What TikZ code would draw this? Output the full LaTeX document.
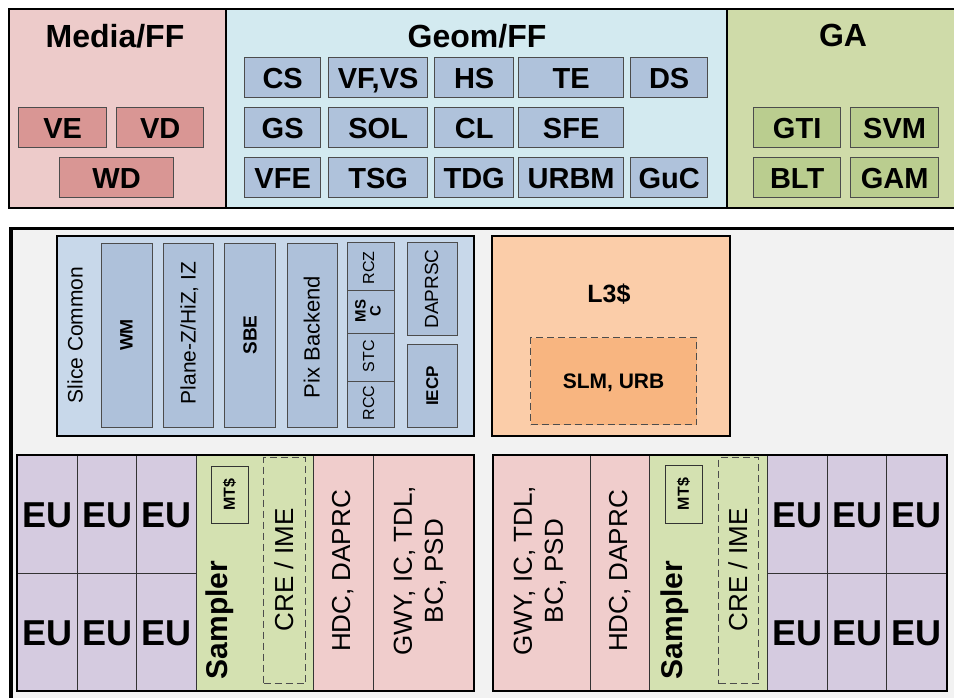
\documentclass[tikz,border=0pt]{standalone}
\usepackage{fontspec}
\setmainfont{Liberation Sans}

\definecolor{mediabg}{HTML}{EDCBCA}
\definecolor{mediabox}{HTML}{D99694}
\definecolor{geombg}{HTML}{D3EAF0}
\definecolor{geombox}{HTML}{AFC2DB}
\definecolor{gabg}{HTML}{CFDBA9}
\definecolor{gabox}{HTML}{BACD8F}
\definecolor{panelbg}{HTML}{F2F2F2}
\definecolor{slicebg}{HTML}{C8D8EA}
\definecolor{slicebox}{HTML}{AEC1DA}
\definecolor{lthreebg}{HTML}{FBCDA9}
\definecolor{lthreein}{HTML}{F8B580}
\definecolor{eufill}{HTML}{D5CBE0}
\definecolor{sampfill}{HTML}{D4E1B1}
\definecolor{hdcfill}{HTML}{F0CDCC}

\newcommand\fsz[1]{\fontsize{#1}{#1}\selectfont}
% box from (x1,y1) to (x2,y2), y measured downwards
\newcommand\cellat[7]{\node[#6,anchor=north west,minimum width={(#4-#2)*1pt},minimum height={(#5-#3)*1pt}] (#1) at (#2,#3) {#7};}

\tikzset{
  frame/.style={draw=black, line width=2.4pt, inner sep=0pt},
  unit/.style={draw=black!70, line width=1.3pt, inner sep=0pt, font=\bfseries\fsz{29}, text height=20.8pt, text depth=0pt},
  media/.style={unit, fill=mediabox},
  geom/.style={unit, fill=geombox},
  ga/.style={unit, fill=gabox},
  title/.style={font=\bfseries\fsz{32}, anchor=base, inner sep=0pt},
  vlab/.style={rotate=90, anchor=base, inner sep=0pt},
  grid/.style={draw=black!80, line width=1.2pt, inner sep=0pt},
  slicecell/.style={draw=black!70, line width=1.2pt, fill=slicebox, inner sep=0pt},
  eu/.style={grid, fill=eufill, font=\bfseries\fsz{36}, text height=25.8pt, text depth=0pt},
  dashbox/.style={draw=black!70, line width=1.1pt, dash pattern=on 7pt off 4pt, inner sep=0pt},
}

\begin{document}
\begin{tikzpicture}[x=1pt,y=-1pt]
\useasboundingbox (0,0) rectangle (954,698);
\fill[white] (0,0) rectangle (954,698);

% ---------- fixed-function blocks ----------
\cellat{mediaff}{8}{8}{225}{207}{frame,fill=mediabg}{}
\cellat{geomff}{225}{8}{726}{207}{frame,fill=geombg}{}
\cellat{gablk}{726}{8}{970}{207}{frame,fill=gabg}{}
\node[title] (mediat) at (115,47.5) {Media/FF};
\node[title] (geomt) at (477,48) {Geom/FF};
\node[title] (gat) at (843,47) {GA};

\cellat{ve}{18}{107}{106}{147}{media}{VE}
\cellat{vd}{116}{107}{203}{147}{media}{VD}
\cellat{wd}{59}{157}{173}{197}{media}{WD}

\cellat{cs}{244}{57}{320}{97}{geom}{CS}
\cellat{vfvs}{328}{57}{427}{97}{geom}{VF,VS}
\cellat{hs}{434}{57}{513}{97}{geom}{HS}
\cellat{te}{518}{57}{623}{97}{geom}{TE}
\cellat{ds}{630}{57}{707}{97}{geom}{DS}
\cellat{gs}{244}{107}{320}{147}{geom}{GS}
\cellat{sol}{328}{107}{427}{147}{geom}{SOL}
\cellat{cl}{434}{107}{513}{147}{geom}{CL}
\cellat{sfe}{518}{107}{623}{147}{geom}{SFE}
\cellat{vfe}{244}{157}{320}{197}{geom}{VFE}
\cellat{tsg}{328}{157}{427}{197}{geom}{TSG}
\cellat{tdg}{434}{157}{513}{197}{geom}{TDG}
\cellat{urbm}{518}{157}{623}{197}{geom}{URBM}
\cellat{guc}{630}{157}{707}{197}{geom}{GuC}

\cellat{gti}{753}{107}{840}{147}{ga}{GTI}
\cellat{svm}{850}{107}{938}{147}{ga}{SVM}
\cellat{blt}{753}{157}{840}{197}{ga}{BLT}
\cellat{gam}{850}{157}{938}{197}{ga}{GAM}

% ---------- slice panel ----------
\cellat{panel}{9}{227}{980}{720}{draw=black,line width=3.5pt,fill=panelbg,inner sep=0pt}{}

% slice common
\cellat{slicecommon}{56}{235}{473}{435}{frame,line width=2pt,fill=slicebg}{}
\node[vlab,font=\fsz{21}] (slicet) at (82.5,335) {Slice Common};
\cellat{wm}{101}{243}{152}{427}{slicecell}{}
\node[vlab,font=\bfseries\fsz{18}] (wmt) at (132.5,335) {WM};
\cellat{planez}{163}{243}{213}{427}{slicecell}{}
\node[vlab,font=\fsz{21}] (planezt) at (195.5,333) {Plane-Z/HiZ, IZ};
\cellat{sbe}{224}{243}{275}{427}{slicecell}{}
\node[vlab,font=\bfseries\fsz{19}] (sbet) at (256.5,335) {SBE};
\cellat{pix}{287}{243}{337}{427}{slicecell}{}
\node[vlab,font=\fsz{22}] (pixt) at (319.5,337) {Pix Backend};
\cellat{rcz}{347}{242}{394}{290}{slicecell}{}
\node[vlab,font=\fsz{16}] (rczt) at (374,268) {RCZ};
\cellat{msc}{347}{290}{394}{333}{slicecell}{}
\node[rotate=90,align=center,inner sep=0pt,font=\bfseries\fsz{15}] (msct) at (368,311) {MS\\C};
\cellat{stc}{347}{333}{394}{381}{slicecell}{}
\node[vlab,font=\fsz{16}] (stct) at (374,356) {STC};
\cellat{rcc}{347}{381}{394}{427}{slicecell}{}
\node[vlab,font=\fsz{16}] (rcct) at (374,403) {RCC};
\cellat{daprsc}{407}{242}{457}{335}{slicecell}{}
\node[vlab,font=\fsz{19}] (daprsct) at (438,289) {DAPRSC};
\cellat{iecp}{407}{344}{457}{427}{slicecell}{}
\node[vlab,font=\bfseries\fsz{17}] (iecpt) at (438,386) {IECP};

% L3 cache
\cellat{lthree}{491}{235}{729}{435}{frame,line width=2pt,fill=lthreebg}{}
\node[font=\bfseries\fsz{25},anchor=base,inner sep=0pt] (lthreet) at (609,302) {L3\$};
\cellat{slmurb}{530}{337}{696}{424}{dashbox,fill=lthreein,font=\bfseries\fsz{21},text height=15pt,text depth=0pt}{SLM, URB}

% ---------- left subslice ----------
\cellat{eul1}{16}{454}{77}{573}{eu}{EU}
\cellat{eul2}{77}{454}{136}{573}{eu}{EU}
\cellat{eul3}{136}{454}{196}{573}{eu}{EU}
\cellat{eul4}{16}{573}{77}{690}{eu}{EU}
\cellat{eul5}{77}{573}{136}{690}{eu}{EU}
\cellat{eul6}{136}{573}{196}{690}{eu}{EU}
\cellat{sampl}{196}{454}{313}{690}{grid,fill=sampfill}{}
\cellat{mtl}{211}{466}{248}{523}{grid,line width=1pt,fill=sampfill}{}
\node[rotate=90,inner sep=0pt,font=\bfseries\fsz{16}] (mtlt) at (229.5,494.5) {MT\$};
\cellat{crel}{263}{457}{305}{683}{dashbox}{}
\node[vlab,font=\bfseries\fsz{30}] (samplt) at (227.5,620) {Sampler};
\node[vlab,font=\fsz{26}] (crelt) at (293,570) {CRE / IME};
\cellat{hdcl}{313}{454}{373}{690}{grid,fill=hdcfill}{}
\node[vlab,font=\fsz{26}] (hdclt) at (350,571) {HDC, DAPRC};
\cellat{gwyl}{373}{454}{473}{690}{grid,fill=hdcfill}{}
\node[rotate=90,align=center,inner sep=0pt,font=\fontsize{26}{31}\selectfont] (gwylt) at (420,571) {GWY, IC, TDL,\\BC, PSD};
\cellat{subl}{16}{454}{473}{690}{draw=black,line width=2pt,inner sep=0pt}{}

% ---------- right subslice ----------
\cellat{gwyr}{492}{454}{590}{690}{grid,fill=hdcfill}{}
\node[rotate=90,align=center,inner sep=0pt,font=\fontsize{26}{31}\selectfont] (gwyrt) at (540,571) {GWY, IC, TDL,\\BC, PSD};
\cellat{hdcr}{590}{454}{649}{690}{grid,fill=hdcfill}{}
\node[vlab,font=\fsz{26}] (hdcrt) at (627,571) {HDC, DAPRC};
\cellat{sampr}{649}{454}{767}{690}{grid,fill=sampfill}{}
\cellat{mtr}{665}{465}{702}{523}{grid,line width=1pt,fill=sampfill}{}
\node[rotate=90,inner sep=0pt,font=\bfseries\fsz{16}] (mtrt) at (683.5,494) {MT\$};
\cellat{crer}{718}{457}{758}{683}{dashbox}{}
\node[vlab,font=\bfseries\fsz{30}] (samprt) at (682.5,620) {Sampler};
\node[vlab,font=\fsz{26}] (crert) at (747,570) {CRE / IME};
\cellat{eur1}{767}{454}{827}{573}{eu}{EU}
\cellat{eur2}{827}{454}{886}{573}{eu}{EU}
\cellat{eur3}{886}{454}{946}{573}{eu}{EU}
\cellat{eur4}{767}{573}{827}{690}{eu}{EU}
\cellat{eur5}{827}{573}{886}{690}{eu}{EU}
\cellat{eur6}{886}{573}{946}{690}{eu}{EU}
\cellat{subr}{492}{454}{946}{690}{draw=black,line width=2pt,inner sep=0pt}{}
\end{tikzpicture}
\end{document}
